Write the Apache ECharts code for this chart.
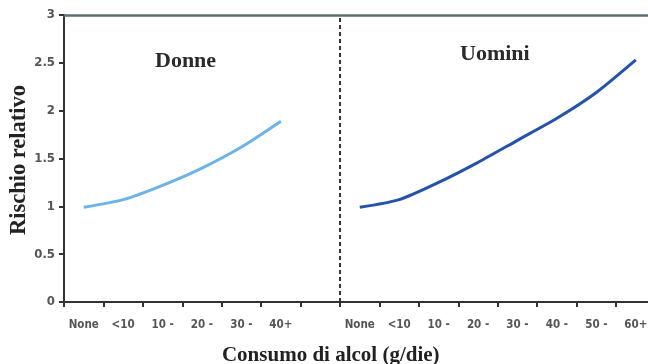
<!DOCTYPE html>
<html><head><meta charset="utf-8">
<script src="https://cdn.jsdelivr.net/npm/echarts@6/dist/echarts.min.js"></script>
<style>html,body{margin:0;padding:0;background:#fff}#c{width:648px;height:364px}</style>
</head><body><div id="c"></div>
<script>
var donneCats = ['None', '<10', '10 -', '20 -', '30 -', '40+'];
var uominiCats = ['None', '<10', '10 -', '20 -', '30 -', '40 -', '50 -', '60+'];
var donneVals = [0.99, 1.07, 1.22, 1.40, 1.62, 1.89];
var uominiVals = [0.99, 1.07, 1.25, 1.46, 1.69, 1.92, 2.19, 2.53];
var yTicks = [0, 0.5, 1, 1.5, 2, 2.5, 3];

var cats = donneCats.concat(['']).concat(uominiCats);
var gapIndex = donneCats.length + 1; // first Uomini category
var donneSeries = donneVals.concat(new Array(cats.length - donneVals.length).fill(null));
var uominiSeries = new Array(gapIndex).fill(null).concat(uominiVals);
var yMin = yTicks[0], yMax = yTicks[yTicks.length - 1];

var chart = echarts.init(document.getElementById('c'), null, {renderer: 'canvas'});
var tickFont = {fontFamily: 'DejaVu Sans Condensed, DejaVu Sans', color: '#555', fontWeight: 'bold'};
chart.setOption({
  animation: false,
  backgroundColor: '#fff',
  grid: {left: 64, width: 591.5, top: 15, bottom: 62, containLabel: false, outerBoundsMode: 'none'},
  xAxis: [{
    type: 'category', data: cats, boundaryGap: true, position: 'bottom',
    axisLine: {lineStyle: {color: '#333', width: 2}},
    axisTick: {show: true, interval: 0, length: 5, inside: false, lineStyle: {color: '#333', width: 2}},
    axisLabel: Object.assign({interval: 0, margin: 17, fontSize: 11.5}, tickFont),
    splitLine: {show: false},
    name: 'Consumo di alcol (g/die)', nameLocation: 'middle', nameGap: 43, nameMoveOverlap: false,
    nameTextStyle: {fontFamily: 'Liberation Serif', fontWeight: 'bold', fontSize: 21, color: '#222', padding: [0, 58, 0, 0]}
  }, {
    type: 'category', data: cats, position: 'top',
    axisLine: {lineStyle: {color: '#5f6e6e', width: 2.5}},
    axisTick: {show: false}, axisLabel: {show: false}, splitLine: {show: false}
  }, {
    type: 'value', min: 0, max: cats.length, show: false
  }],
  yAxis: {
    type: 'value', min: yMin, max: yMax, interval: 0.5,
    axisLine: {show: true, lineStyle: {color: '#333', width: 2}},
    axisTick: {show: true, length: 5, lineStyle: {color: '#333', width: 2}},
    splitLine: {show: false},
    axisLabel: Object.assign({margin: 9, fontSize: 13}, tickFont),
    name: 'Rischio relativo', nameLocation: 'middle', nameGap: 33, nameRotate: 90, nameMoveOverlap: false,
    nameTextStyle: {fontFamily: 'Liberation Serif', fontWeight: 'bold', fontSize: 22.5, color: '#222', padding: [0, 3, 0, 0]}
  },
  series: [{
    name: 'Donne', type: 'line', data: donneSeries, smooth: 0.25, showSymbol: false,
    lineStyle: {color: '#6cb3e6', width: 3}, connectNulls: false
  }, {
    name: 'Uomini', type: 'line', data: uominiSeries, smooth: 0.25, showSymbol: false,
    lineStyle: {color: '#2452ad', width: 3}, connectNulls: false
  }, {
    name: 'divider', type: 'line', xAxisIndex: 2, data: [[gapIndex, yMin], [gapIndex, yMax]],
    showSymbol: false, lineStyle: {color: '#333', width: 2, type: [4, 3]}, silent: true
  }],
  graphic: [
    {type: 'text', left: 155, top: 50, style: {text: 'Donne', fontFamily: 'Liberation Serif', fontWeight: 'bold', fontSize: 22, fill: '#2a2a2a'}},
    {type: 'text', left: 460, top: 43, style: {text: 'Uomini', fontFamily: 'Liberation Serif', fontWeight: 'bold', fontSize: 22, fill: '#2a2a2a'}}
  ]
});
</script></body></html>
